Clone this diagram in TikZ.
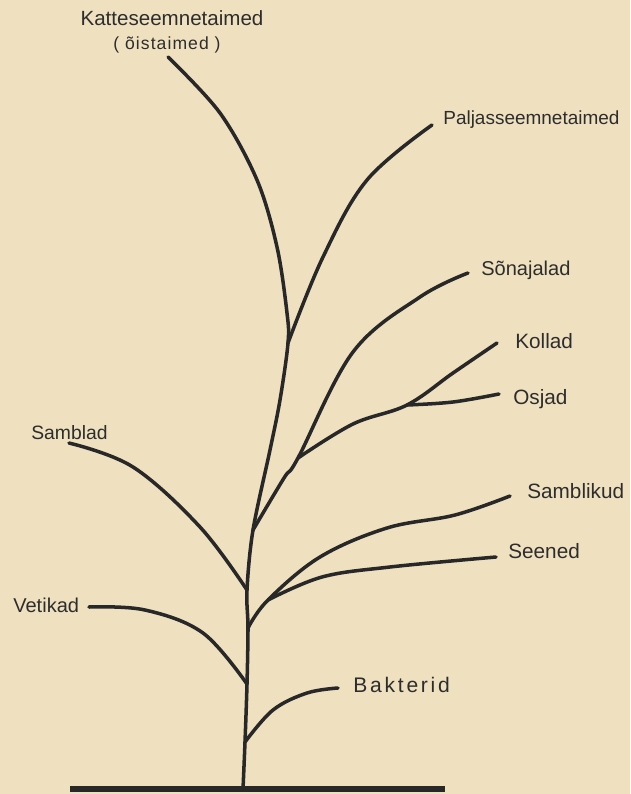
\documentclass[tikz,border=0pt]{standalone}
\usepackage{fontspec}
\setmainfont{Liberation Sans}
\definecolor{paper}{RGB}{239,225,191}
\definecolor{ink}{RGB}{40,40,40}
\definecolor{txt}{RGB}{45,45,45}
\begin{document}
\begin{tikzpicture}[x=0.02cm,y=-0.02cm,
  branch/.style={draw=ink,line width=2pt,line cap=round,line join=round},
  ground/.style={draw=ink,line width=3.4pt},
  lbl/.style={anchor=base west,inner sep=0pt,text=txt,font=\fontsize{11.8}{14}\selectfont},
  lblc/.style={anchor=base,inner sep=0pt,text=txt,font=\fontsize{11.7}{14}\selectfont},
  sublbl/.style={anchor=base,inner sep=0pt,text=txt,font=\fontsize{10}{12}\selectfont\addfontfeature{LetterSpace=6}}]
\fill[paper] (0,0) rectangle (630,794);
\useasboundingbox (0,0) rectangle (630,794);

% labels
\node[lblc] (katte) at (172,26) {Katteseemnetaimed};
\node[sublbl] (oie) at (167,50) {( õistaimed )};
\node[lbl,font=\fontsize{10.8}{13}\selectfont] (palj) at (443,125) {Paljasseemnetaimed};
\node[lbl,font=\fontsize{11.4}{14}\selectfont] (sona) at (481,275) {Sõnajalad};
\node[lbl] (koll) at (515,348) {Kollad};
\node[lbl] (osja) at (513,404) {Osjad};
\node[lbl] (samk) at (527,498) {Samblikud};
\node[lbl] (seen) at (508,558) {Seened};
\node[lbl,font=\fontsize{11}{14}\selectfont] (samb) at (31,439) {Samblad};
\node[lbl,font=\fontsize{11.4}{14}\selectfont] (veti) at (13,612) {Vetikad};
\node[lbl,font=\fontsize{12}{14}\selectfont\addfontfeature{LetterSpace=13}] (bakt) at (353,692) {Bakterid};

% ground
\coordinate (gl) at (70,789);
\coordinate (gr) at (445,789);
\draw[ground] (gl) -- (gr);

% junctions and tips
\coordinate (base) at (243,789);
\coordinate (jB) at (245,742);
\coordinate (jV) at (247,684);
\coordinate (jS) at (248,628);
\coordinate (jM) at (247,590);
\coordinate (jF) at (253,530);
\coordinate (t1) at (270,450);
\coordinate (t2) at (280,400);
\coordinate (jP) at (288,343);
\coordinate (t3) at (287,313);
\coordinate (t4) at (277,247);
\coordinate (t5) at (257,180);
\coordinate (t6) at (220,113);
\coordinate (tipK) at (168,57);

\coordinate (p1) at (323,257);
\coordinate (p2) at (367,180);
\coordinate (tipP) at (432,125);

\coordinate (f1) at (284,478);
\coordinate (jFs) at (298,458);
\coordinate (s1) at (353,352);
\coordinate (s2) at (420,297);
\coordinate (tipS) at (468,273);

\coordinate (k0) at (353,424);
\coordinate (jKO) at (407,405);
\coordinate (k1) at (453,373);
\coordinate (tipKo) at (497,343);
\coordinate (o1) at (453,402);
\coordinate (tipO) at (499,394);

\coordinate (jSS) at (268,600);
\coordinate (m1) at (320,557);
\coordinate (m2) at (387,528);
\coordinate (m3) at (455,515);
\coordinate (tipM) at (510,496);
\coordinate (e1) at (322,577);
\coordinate (e2) at (390,567);
\coordinate (tipE) at (496,557);

\coordinate (tipSa) at (69,443);
\coordinate (a1) at (133,467);
\coordinate (a2) at (200,527);

\coordinate (tipV) at (89,607);
\coordinate (v1) at (145,610);
\coordinate (v2) at (203,633);
\coordinate (jV2) at (247,684);

\coordinate (b1) at (273,710);
\coordinate (b2) at (307,693);
\coordinate (tipB) at (338,688);

% trunk
\draw[branch] plot[smooth,tension=0.55] coordinates {(base) (jB) (jV) (jS) (jM) (jF) (t1) (t2) (jP) (t3) (t4) (t5) (t6) (tipK)};
% gymnosperms
\draw[branch] plot[smooth,tension=0.6] coordinates {(jP) (p1) (p2) (tipP)};
% ferns
\draw[branch] plot[smooth,tension=0.6] coordinates {(jF) (f1) (jFs) (s1) (s2) (tipS)};
\draw[branch] plot[smooth,tension=0.6] coordinates {(jFs) (k0) (jKO) (k1) (tipKo)};
\draw[branch] plot[smooth,tension=0.6] coordinates {(jKO) (o1) (tipO)};
% fungi and lichens
\draw[branch] plot[smooth,tension=0.6] coordinates {(jS) (jSS) (m1) (m2) (m3) (tipM)};
\draw[branch] plot[smooth,tension=0.6] coordinates {(jSS) (e1) (e2) (tipE)};
% mosses
\draw[branch] plot[smooth,tension=0.6] coordinates {(tipSa) (a1) (a2) (jM)};
% algae
\draw[branch] plot[smooth,tension=0.6] coordinates {(tipV) (v1) (v2) (jV2)};
% bacteria
\draw[branch] plot[smooth,tension=0.6] coordinates {(jB) (b1) (b2) (tipB)};
\end{tikzpicture}
\end{document}
